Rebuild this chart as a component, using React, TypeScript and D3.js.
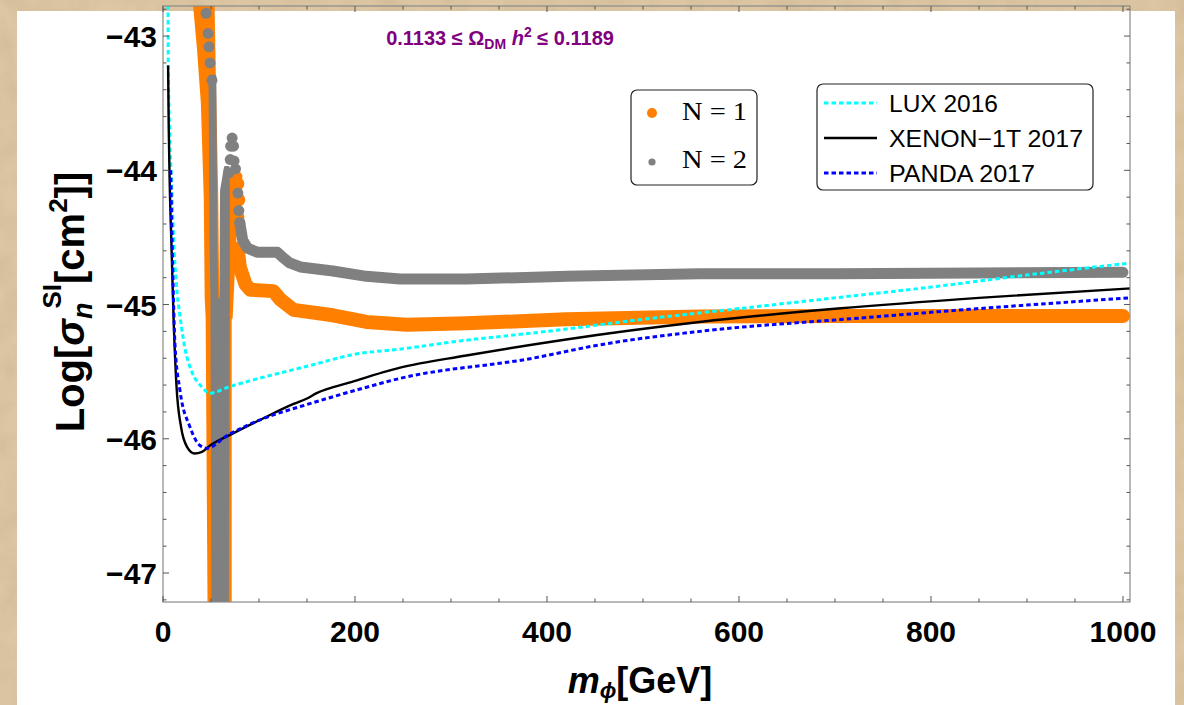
import React from 'react';
import * as d3 from 'd3';

const W = 1184;
const H = 705;

// ---------- tick labels ----------
const xTickValues = [0, 200, 400, 600, 800, 1000];
const yTickValues = [-43, -44, -45, -46, -47];

// ---------- exclusion curves [m (GeV), log10 sigma] ----------
const luxCurve: [number, number][] = [
  [5.2, -42.6], [5.5, -43.2], [7, -43.75], [9, -44.1], [11, -44.5], [14, -44.85], [18, -45.1],
  [23, -45.33], [30, -45.5], [40, -45.61], [49, -45.66], [70, -45.61], [100, -45.55],
  [150, -45.46], [200, -45.37], [250, -45.33], [300, -45.28], [400, -45.2], [500, -45.11],
  [600, -45.03], [700, -44.95], [800, -44.87], [900, -44.78], [1008, -44.69],
];
const xenonCurve: [number, number][] = [
  [5.3, -43.22], [6, -43.7], [7, -44.1], [9, -44.6], [11, -45.1], [14, -45.6], [19, -45.92],
  [25, -46.06], [33, -46.11], [40, -46.1], [49, -46.05], [73, -45.96], [101, -45.86],
  [136, -45.74], [150, -45.7], [160, -45.66], [195, -45.58], [247, -45.47], [316, -45.38],
  [420, -45.26], [559, -45.13], [703, -45.03], [850, -44.95], [1008, -44.88],
];
const pandaCurve: [number, number][] = [
  [8, -44.0], [10, -44.7], [12.5, -45.3], [17.7, -45.64], [28, -45.91], [38.5, -46.05],
  [46, -46.07], [66, -45.98], [108, -45.84], [143, -45.76], [200, -45.64], [247, -45.55],
  [385, -45.4], [455, -45.3], [559, -45.2], [727, -45.1], [850, -45.03], [1008, -44.95],
];

// ---------- scan points: N = 1 (orange) ----------
const n1Track: [number, number][] = [
  [78, -44.6], [80, -44.72], [86, -44.85], [91, -44.89], [115, -44.9], [122, -44.96],
  [136, -45.04], [177, -45.08], [212, -45.13], [254, -45.15], [316, -45.14], [420, -45.11],
  [559, -45.09], [700, -45.085], [850, -45.085], [1000, -45.085],
];
// funnel region: [log sigma, m low, m high]
const n1Funnel: [number, number, number][] = [
  [-42.7, 32, 52], [-43.1, 37, 53], [-43.5, 41, 54], [-44.2, 44, 56], [-44.95, 45, 57],
  [-45.1, 46, 70], [-47.3, 48, 70],
];
const n1Column: [number, number, number][] = [
  [-44.08, 69, 75], [-44.5, 67, 75], [-45.1, 67, 71],
];
const n1Dots: [number, number][] = [
  [74, -44.06], [76, -44.05], [78, -44.1], [79, -44.22], [78, -44.35], [79, -44.45], [78, -44.58],
];

// ---------- scan points: N = 2 (gray) ----------
const n2Track: [number, number][] = [
  [80, -44.39], [83, -44.52], [88, -44.58], [98, -44.61], [119, -44.61], [125, -44.65],
  [132, -44.69], [143, -44.72], [177, -44.75], [212, -44.79], [247, -44.81], [316, -44.81],
  [421, -44.79], [559, -44.77], [700, -44.77], [850, -44.765], [1000, -44.76],
];
const n2Funnel: [number, number, number][] = [
  [-43.3, 49, 54], [-44.5, 50, 55], [-44.95, 51, 56], [-45.1, 51, 68], [-47.3, 52, 67],
];
const n2Column: [number, number, number][] = [
  [-43.98, 65, 68], [-44.15, 61, 68], [-45.1, 60, 68],
];
const n2Dots: [number, number][] = [
  [44.8, -42.83], [46.9, -42.98], [47.9, -43.08], [49, -43.2], [51, -43.33],
  [72, -43.76], [70.5, -43.82], [73.5, -43.82], [70, -43.92], [74, -43.93], [68.5, -44.02],
  [75.5, -43.99], [78, -44.17], [79, -44.3], [80, -44.39],
];

const legendPoints = [
  { label: 'N = 1', color: '#FF7F00', r: 5 },
  { label: 'N = 2', color: '#808080', r: 3.6 },
];
const legendLines = [
  { label: 'LUX 2016', color: '#00FFFF', dash: '4.5,3', width: 3, len: 109 },
  { label: 'XENON\u22121T 2017', color: '#000000', dash: '', width: 2.5, len: 194 },
  { label: 'PANDA 2017', color: '#0000FF', dash: '4.5,3', width: 3, len: 146 },
];

const ORANGE = '#FF7F00';
const GRAY = '#808080';

export default function App() {
  const left = 163, right = 1130, top = 6, bottom = 602;
  const x = d3.scaleLinear().domain([0, 1007.3]).range([left, right]);
  const y = d3.scaleLinear().domain([-47.216, -42.776]).range([bottom, top]);

  const line = d3.line<[number, number]>().x(d => x(d[0])).y(d => y(d[1])).curve(d3.curveMonotoneX);
  const trackLine = d3.line<[number, number]>().x(d => x(d[0])).y(d => y(d[1])).curve(d3.curveLinear);
  const area = d3.area<[number, number, number]>()
    .y(d => y(d[0])).x0(d => x(d[1])).x1(d => x(d[2])).curve(d3.curveLinear);

  const xMinor = d3.range(0, 1001, 50);
  const yMinor = d3.range(-47.2, -42.79, 0.2);
  const font = "'Liberation Sans', Arial, Helvetica, sans-serif";

  return (
    <div style={{ position: 'absolute', left: 0, top: 0, width: W, height: H }}>
      <svg width={W} height={H} viewBox={`0 0 ${W} ${H}`} style={{ display: 'block' }}>
        <defs>
          <filter id="paper" x="0" y="0" width="100%" height="100%">
            <feTurbulence type="fractalNoise" baseFrequency="0.035" numOctaves="4" seed="7" />
            <feColorMatrix type="matrix" values="0 0 0 0 0.55  0 0 0 0 0.42  0 0 0 0 0.25  0 0 0 1.1 -0.35" />
          </filter>
          <clipPath id="plotclip">
            <rect x={left} y={top} width={right - left} height={bottom - top} />
          </clipPath>
        </defs>
        {/* parchment background */}
        <rect x={0} y={0} width={W} height={H} fill="#dcc6a3" />
        <rect x={0} y={0} width={W} height={H} filter="url(#paper)" opacity={0.55} />
        {/* white panel */}
        <rect x={17} y={11} width={1158} height={H} fill="#ffffff" />

        <g clipPath="url(#plotclip)">
          {/* N = 1 orange */}
          <path d={area(n1Funnel) || ''} fill={ORANGE} stroke={ORANGE} strokeWidth={3} strokeLinejoin="round" />
          <path d={area(n1Column) || ''} fill={ORANGE} stroke={ORANGE} strokeWidth={3} strokeLinejoin="round" />
          <path d={trackLine(n1Track) || ''} fill="none" stroke={ORANGE} strokeWidth={14}
            strokeLinecap="round" strokeLinejoin="round" />
          {n1Dots.map((d, i) => (
            <circle key={'o' + i} cx={x(d[0])} cy={y(d[1])} r={6.5} fill={ORANGE} />
          ))}
          {/* N = 2 gray */}
          <path d={area(n2Funnel) || ''} fill={GRAY} stroke={GRAY} strokeWidth={3} strokeLinejoin="round" />
          <path d={area(n2Column) || ''} fill={GRAY} stroke={GRAY} strokeWidth={3} strokeLinejoin="round" />
          <path d={trackLine(n2Track) || ''} fill="none" stroke={GRAY} strokeWidth={11}
            strokeLinecap="round" strokeLinejoin="round" />
          {n2Dots.map((d, i) => (
            <circle key={'g' + i} cx={x(d[0])} cy={y(d[1])} r={5.5} fill={GRAY} />
          ))}
          {/* limits */}
          <path d={line(luxCurve) || ''} fill="none" stroke="#00FFFF" strokeWidth={3} strokeDasharray="4.5,3" />
          <path d={line(xenonCurve) || ''} fill="none" stroke="#000" strokeWidth={2.4} />
          <path d={line(pandaCurve) || ''} fill="none" stroke="#0000FF" strokeWidth={3} strokeDasharray="4.5,3" />
        </g>

        {/* frame */}
        <rect x={left} y={top} width={right - left} height={bottom - top} fill="none" stroke="#8a8a8a" strokeWidth={1.2} />
        {xMinor.map(v => {
          const major = v % 200 === 0;
          const len = major ? 6 : 3.5;
          return (
            <g key={'xt' + v} stroke="#555" strokeWidth={1}>
              <line x1={x(v)} x2={x(v)} y1={bottom} y2={bottom - len} />
              <line x1={x(v)} x2={x(v)} y1={top} y2={top + len} />
            </g>
          );
        })}
        {yMinor.map((v, i) => {
          const major = Math.abs(v - Math.round(v)) < 1e-6;
          const len = major ? 6 : 3.5;
          return (
            <g key={'yt' + i} stroke="#555" strokeWidth={1}>
              <line x1={left} x2={left + len} y1={y(v)} y2={y(v)} />
              <line x1={right} x2={right - len} y1={y(v)} y2={y(v)} />
            </g>
          );
        })}
        {xTickValues.map(v => (
          <text key={'xl' + v} x={x(v)} y={642} textAnchor="middle" fontFamily={font}
            fontWeight="bold" fontSize={30} fill="#000">{v}</text>
        ))}
        {yTickValues.map(v => (
          <text key={'yl' + v} x={157} y={y(v) + 11} textAnchor="end" fontFamily={font}
            fontWeight="bold" fontSize={30} fill="#000">{'\u2212' + Math.abs(v)}</text>
        ))}

        {/* axis titles */}
        <text x={640} y={693} textAnchor="middle" fontFamily={font} fontWeight="bold" fontSize={36} fill="#000">
          <tspan fontStyle="italic">m</tspan>
          <tspan fontStyle="italic" fontSize={22} dy={5}>{'\u03D5'}</tspan>
          <tspan dy={-5}>[GeV]</tspan>
        </text>
        <text transform="translate(84,302) rotate(-90)" textAnchor="middle" fontFamily={font}
          fontWeight="bold" fontSize={40} fill="#000">
          Log[<tspan fontStyle="italic">{'\u03C3'}</tspan>
          <tspan fontStyle="italic" fontSize={27} dy={8}>n</tspan>
          <tspan fontSize={26} dy={-31} dx={-6}>SI</tspan>
          <tspan dy={23}>[cm</tspan>
          <tspan fontSize={26} dy={-17}>2</tspan>
          <tspan dy={17}>]]</tspan>
        </text>

        {/* annotation */}
        <text x={500} y={45} textAnchor="middle" fontFamily={font} fontWeight="bold" fontSize={20} fill="#800080">
          0.1133 {'\u2264'} {'\u03A9'}<tspan fontSize={14} dy={4}>DM</tspan>
          <tspan dy={-4} fontStyle="italic"> h</tspan>
          <tspan fontSize={14} dy={-8}>2</tspan>
          <tspan dy={8}> {'\u2264'} 0.1189</tspan>
        </text>

        {/* legend: points */}
        <rect x={631} y={90} width={126} height={95} rx={6} fill="#fff" stroke="#222" strokeWidth={1.2} />
        {legendPoints.map((p, i) => (
          <g key={'lp' + i}>
            <circle cx={652} cy={113 + i * 49} r={p.r} fill={p.color} />
            <text x={682} y={120 + i * 48} fontFamily="'Liberation Serif', 'Times New Roman', serif"
              fontSize={26} fill="#000" textLength={65} lengthAdjust="spacingAndGlyphs">{p.label}</text>
          </g>
        ))}

        {/* legend: lines */}
        <rect x={817} y={84} width={276} height={106} rx={6} fill="#fff" stroke="#222" strokeWidth={1.2} />
        {legendLines.map((l, i) => (
          <g key={'ll' + i}>
            <line x1={824} x2={877} y1={103 + i * 35} y2={103 + i * 35} stroke={l.color}
              strokeWidth={l.width} strokeDasharray={l.dash || undefined} />
            <text x={889} y={112 + i * 35} fontFamily={font} fontSize={23} fill="#000"
              textLength={l.len} lengthAdjust="spacingAndGlyphs">{l.label}</text>
          </g>
        ))}
      </svg>
    </div>
  );
}
